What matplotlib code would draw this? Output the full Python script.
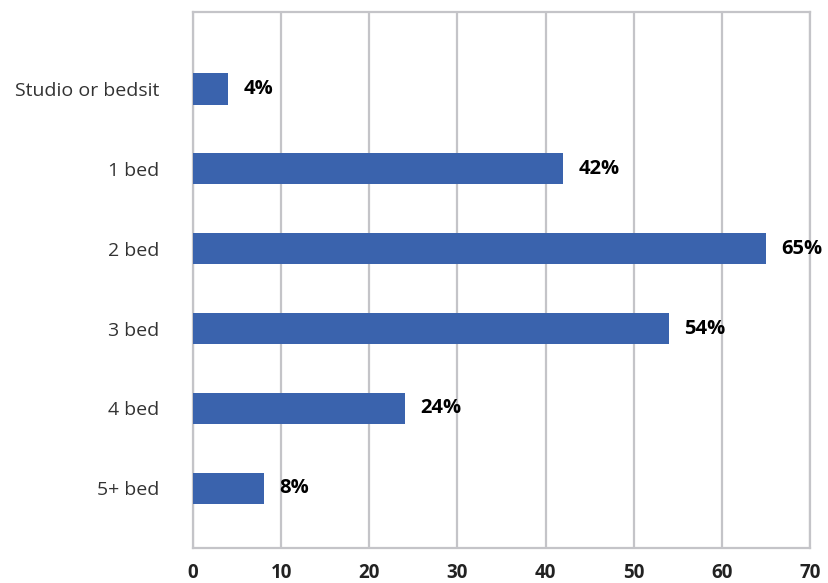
import matplotlib.pyplot as plt

plt.rcParams['font.family'] = ['Open Sans', 'DejaVu Sans']

categories = ["Studio or bedsit", "1 bed", "2 bed", "3 bed", "4 bed", "5+ bed"]
values = [4, 42, 65, 54, 24, 8]
x_ticks = [0, 10, 20, 30, 40, 50, 60, 70]

fig = plt.figure(figsize=(8.29, 5.83), dpi=100)
ax = fig.add_axes([0.2328, 0.060, 0.9771 - 0.2328, 0.9794 - 0.060])

pos = list(range(len(categories)))
ax.barh(pos, values, height=0.39, color="#3A63AD", zorder=3)

for p, v in zip(pos, values):
    ax.annotate(f"{v}%", xy=(v, p), xytext=(11, 0), textcoords="offset points",
                va="center", ha="left", fontsize=14.5, fontweight="bold", color="black")

ax.set_xlim(0, 70)
ax.set_ylim(5.75, -0.965)
ax.set_xticks(x_ticks)
ax.set_xticklabels([str(t) for t in x_ticks], fontsize=13.5, fontweight="bold", color="#222222")
ax.set_yticks(pos)
ax.set_yticklabels(categories, fontsize=14, color="#333333")
ax.tick_params(axis="both", length=0)
ax.tick_params(axis="x", pad=11)
ax.tick_params(axis="y", pad=24)

ax.grid(axis="x", color="#C4C4C8", linewidth=1.6, zorder=0)
for s in ax.spines.values():
    s.set_color("#C4C4C8")
    s.set_linewidth(1.6)

fig.savefig("out.png", dpi=100)
